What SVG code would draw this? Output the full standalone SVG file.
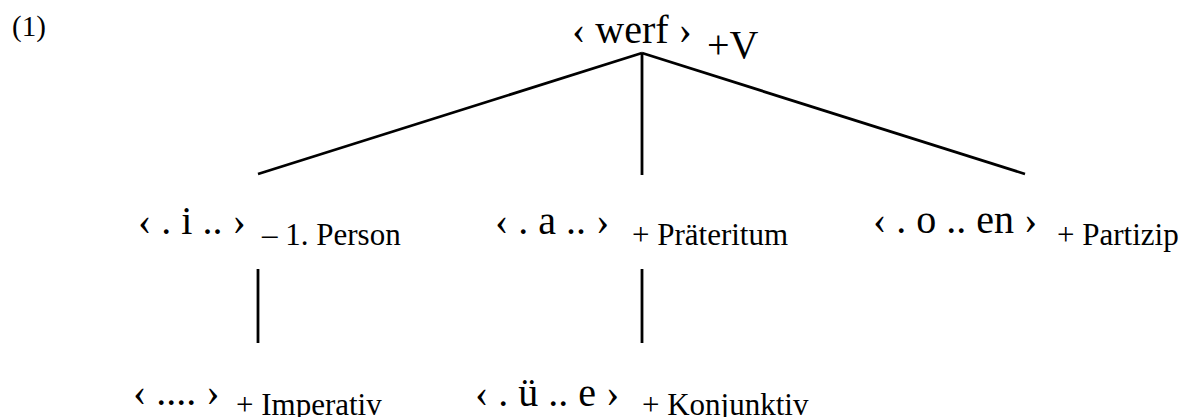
<svg xmlns="http://www.w3.org/2000/svg" width="1186" height="417" viewBox="0 0 1186 417">
<style>
text{font-family:"Liberation Serif","Times New Roman",serif;fill:#000}
.big{font-size:40px}
.sm{font-size:31px}
.c line{stroke:#000;stroke-width:2.8;stroke-linecap:butt}
</style>
<rect width="1186" height="417" fill="#fff"/>
<g id="label"><text x="12" y="36" font-size="29">(1)</text></g>
<g id="root"><text class="big" x="572" y="43">‹ werf ›</text><text class="big" x="707" y="58">+V</text></g>
<g class="c" id="connectors">
<line x1="642" y1="53" x2="258" y2="174"/>
<line x1="642" y1="53" x2="642" y2="175"/>
<line x1="642" y1="53" x2="1025" y2="174"/>
<line x1="258" y1="269" x2="258" y2="343"/>
<line x1="642" y1="269" x2="642" y2="343"/>
</g>
<g id="n1"><text class="big" x="138" y="234">‹ . i .. ›</text><text class="sm" x="262" y="245">– 1. Person</text></g>
<g id="n2"><text class="big" x="495" y="234">‹ . a .. ›</text><text class="sm" x="632" y="245">+ Präteritum</text></g>
<g id="n3"><text class="big" x="873" y="233">‹ . o .. en ›</text><text class="sm" x="1057" y="245">+ Partizip</text></g>
<g id="n4"><text class="big" x="133" y="405">‹ .... ›</text><text class="sm" x="236" y="415">+ Imperativ</text></g>
<g id="n5"><text class="big" x="475" y="406">‹ . ü .. e ›</text><text class="sm" x="642" y="415">+ Konjunktiv</text></g>
</svg>
